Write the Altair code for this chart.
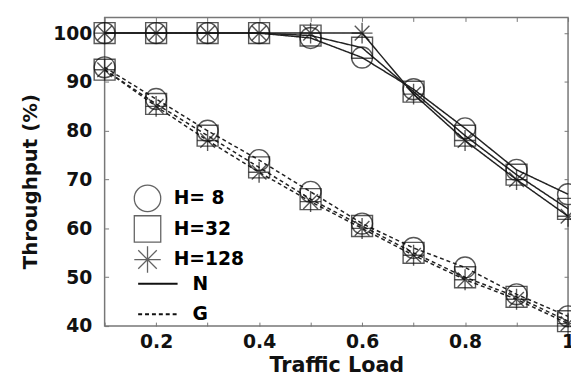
import altair as alt
import pandas as pd

loads = [0.1, 0.2, 0.3, 0.4, 0.5, 0.6, 0.7, 0.8, 0.9, 1.0]
n_h8 = [100, 100, 100, 100, 99, 95, 88.5, 80.5, 72, 67]
n_h32 = [100, 100, 100, 100, 99.5, 97, 88, 79, 71, 64]
n_h128 = [100, 100, 100, 100, 100, 100, 87.5, 78, 70, 62.5]
g_h8 = [93, 86.5, 80, 74, 67.5, 61, 56, 52, 46.5, 42]
g_h32 = [92.5, 85.5, 79, 72.5, 66, 60.5, 55, 50, 46, 41]
g_h128 = [92.5, 85, 78, 71.5, 65.5, 60, 54.5, 49.5, 45.5, 40.5]

h_labels = ["H= 8", "H=32", "H=128"]
type_labels = ["N", "G"]
x_ticks = [0.1, 0.2, 0.3, 0.4, 0.5, 0.6, 0.7, 0.8, 0.9, 1.0]
y_ticks = [40, 50, 60, 70, 80, 90, 100]

rows = []
for t, series in [("N", [n_h8, n_h32, n_h128]), ("G", [g_h8, g_h32, g_h128])]:
    for h, vals in zip(h_labels, series):
        for x, v in zip(loads, vals):
            rows.append({"load": x, "value": v, "H": h, "type": t, "grp": t + h})
df = pd.DataFrame(rows)

asterisk = "M0,-1L0,1M-1,0L1,0M-0.7,-0.7L0.7,0.7M-0.7,0.7L0.7,-0.7"

xscale = alt.Scale(domain=[0.1, 1.0], nice=False)
yscale = alt.Scale(domain=[40, 103.2], nice=False, zero=False)

xenc = alt.X("load:Q", scale=xscale,
             axis=alt.Axis(title="Traffic Load", values=x_ticks,
                           labelExpr="indexof([0.2,0.4,0.6,0.8], round(datum.value*10)/10) >= 0 ? format(datum.value, '.1f') : (datum.value == 1 ? '1' : '')",
                           offset=-4, tickSize=4, domain=False, labelPadding=7,
                           titleBaseline="alphabetic", titleY=50, titleFontSize=21,
                           labelOverlap=False, labelFlush=False))
yenc = alt.Y("value:Q", scale=yscale,
             axis=alt.Axis(title="Throughput (%)", values=y_ticks,
                           offset=-4, tickSize=4, domain=False, labelPadding=13,
                           titlePadding=12, titleY=166, titleFontSize=20))

lines = alt.Chart(df).mark_line(strokeWidth=1.5, color="#222").encode(
    x=xenc, y=yenc,
    detail="grp:N",
    strokeDash=alt.StrokeDash("type:N", scale=alt.Scale(domain=type_labels, range=[[1, 0], [4, 3]]),
                              legend=alt.Legend(title=None, orient="none", legendX=33, legendY=249,
                                                symbolType="stroke", symbolSize=1600,
                                                symbolStrokeColor="#111", symbolStrokeWidth=2,
                                                labelFontSize=19, labelFontWeight="bold",
                                                labelFont="DejaVu Sans", rowPadding=-20,
                                                labelOffset=14)),
)

points = alt.Chart(df).mark_point(filled=False, size=450, stroke="#111", strokeWidth=1.4).encode(
    x=alt.X("load:Q", scale=xscale, axis=None),
    y=alt.Y("value:Q", scale=yscale, axis=None),
    shape=alt.Shape("H:N", scale=alt.Scale(domain=h_labels, range=["circle", "square", asterisk]),
                    legend=alt.Legend(title=None, orient="none", legendX=29, legendY=169,
                                      symbolSize=720, symbolStrokeColor="#222", symbolStrokeWidth=1.3,
                                      symbolFillColor="transparent",
                                      labelFontSize=19, labelFontWeight="bold",
                                      labelFont="DejaVu Sans", rowPadding=-2, labelOffset=12)),
)

frame_ticks = alt.Chart(df).mark_point(opacity=0).encode(
    x=alt.X("load:Q", scale=xscale,
            axis=alt.Axis(orient="top", title=None, values=x_ticks, labels=False,
                          offset=-4, tickSize=4, domain=False)),
    y=alt.Y("value:Q", scale=yscale,
            axis=alt.Axis(orient="right", title=None, values=y_ticks, labels=False,
                          offset=-4, tickSize=4, domain=False)),
)

chart = alt.layer(lines, points, frame_ticks).resolve_axis(x="independent", y="independent").properties(
    width=470, height=313,
    padding={"left": 98, "top": 7, "right": 3, "bottom": 47},
    autosize=alt.AutoSizeParams(type="none"),
    background="white",
).configure_view(stroke="#777", strokeWidth=1.5).configure_axis(
    labelFont="DejaVu Sans", labelFontSize=19, labelFontWeight="bold", labelColor="#111",
    titleFont="DejaVu Sans", titleFontWeight="bold", titleColor="#111",
    tickColor="#777", grid=False,
)

chart.save("out.html", embed_options={"renderer": "svg", "actions": False})
